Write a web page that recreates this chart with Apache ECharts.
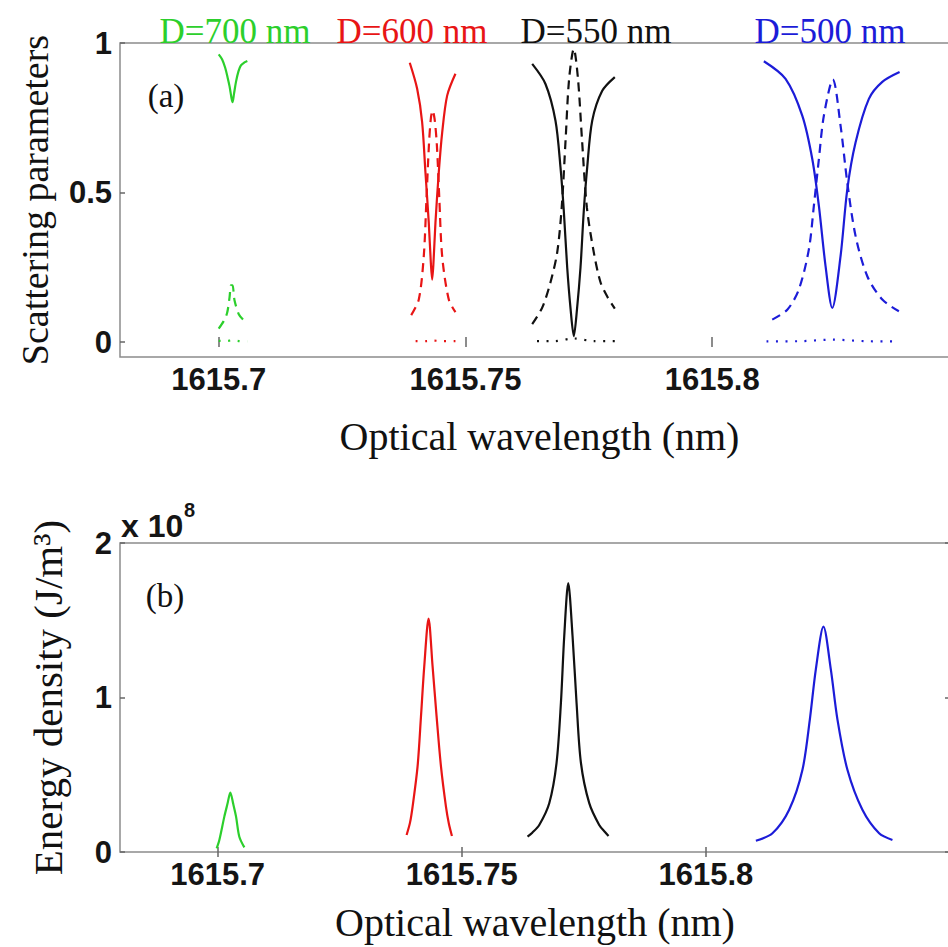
<!DOCTYPE html>
<html>
<head>
<meta charset="utf-8">
<script src="https://cdn.jsdelivr.net/npm/echarts@6/dist/echarts.min.js"></script>
<style>
html,body{margin:0;padding:0;background:#fff;overflow:hidden;width:948px;height:947px;}
#chart{width:962px;height:947px;}
</style>
</head>
<body>
<div id="chart"></div>
<script>
// ---------- tick values ----------
const X_TICKS = [1615.7, 1615.75, 1615.8];
const Y_TICKS_A = [0, 0.5, 1];
const Y_TICKS_B = [0, 1, 2];

// ---------- panel (a): scattering parameters [wavelength nm, value] ----------
const D700_solid = [[1615.70000,0.962],[1615.70070,0.945],[1615.70130,0.918],[1615.70180,0.885],[1615.70220,0.855],[1615.70260,0.815],[1615.70280,0.802],[1615.70310,0.830],[1615.70350,0.870],[1615.70400,0.905],[1615.70450,0.925],[1615.70520,0.935],[1615.70580,0.940]];
const D700_dashed = [[1615.70000,0.045],[1615.70100,0.070],[1615.70170,0.097],[1615.70220,0.150],[1615.70250,0.190],[1615.70280,0.190],[1615.70320,0.140],[1615.70410,0.092],[1615.70500,0.074],[1615.70580,0.064]];
const D700_dotted = [[1615.70000,0.004],[1615.70150,0.003],[1615.70280,0.006],[1615.70430,0.003],[1615.70580,0.002]];

const D600_solid = [[1615.73871,0.934],[1615.74021,0.847],[1615.74122,0.735],[1615.74189,0.567],[1615.74256,0.400],[1615.74300,0.260],[1615.74325,0.209],[1615.74350,0.260],[1615.74392,0.400],[1615.74459,0.567],[1615.74528,0.700],[1615.74629,0.824],[1615.74797,0.897]];
const D600_dashed = [[1615.73900,0.090],[1615.74054,0.142],[1615.74155,0.287],[1615.74210,0.480],[1615.74260,0.660],[1615.74300,0.750],[1615.74335,0.774],[1615.74375,0.745],[1615.74420,0.660],[1615.74470,0.480],[1615.74528,0.287],[1615.74662,0.142],[1615.74797,0.100]];
const D600_dotted = [[1615.73990,0.003],[1615.74200,0.003],[1615.74330,0.005],[1615.74560,0.003],[1615.74797,0.003]];

const D550_solid = [[1615.76352,0.930],[1615.76621,0.863],[1615.76824,0.740],[1615.76925,0.585],[1615.76992,0.440],[1615.77061,0.250],[1615.77130,0.110],[1615.77195,0.020],[1615.77260,0.110],[1615.77331,0.250],[1615.77398,0.440],[1615.77467,0.585],[1615.77568,0.740],[1615.77771,0.840],[1615.78026,0.886]];
const D550_dashed = [[1615.76352,0.060],[1615.76555,0.115],[1615.76723,0.200],[1615.76859,0.300],[1615.76950,0.450],[1615.77030,0.680],[1615.77100,0.880],[1615.77195,0.980],[1615.77280,0.880],[1615.77360,0.680],[1615.77460,0.450],[1615.77600,0.300],[1615.77736,0.200],[1615.77880,0.150],[1615.78026,0.112]];
const D550_dotted = [[1615.76450,0.003],[1615.76800,0.003],[1615.77195,0.012],[1615.77600,0.003],[1615.78026,0.003]];

const D500_solid = [[1615.81046,0.939],[1615.81486,0.880],[1615.81824,0.757],[1615.82027,0.612],[1615.82161,0.455],[1615.82296,0.254],[1615.82432,0.114],[1615.82600,0.287],[1615.82736,0.510],[1615.82904,0.667],[1615.83174,0.813],[1615.83446,0.870],[1615.83796,0.903]];
const D500_dashed = [[1615.81216,0.075],[1615.81520,0.108],[1615.81755,0.176],[1615.81958,0.310],[1615.82059,0.455],[1615.82161,0.612],[1615.82262,0.757],[1615.82444,0.878],[1615.82600,0.724],[1615.82736,0.534],[1615.82904,0.355],[1615.83142,0.220],[1615.83446,0.142],[1615.83782,0.103]];
const D500_dotted = [[1615.81100,0.002],[1615.81800,0.003],[1615.82440,0.008],[1615.83100,0.003],[1615.83782,0.002]];

// ---------- panel (b): energy density, in units of 1e8 J/m^3 ----------
const E700 = [[1615.69980,0.024],[1615.70035,0.078],[1615.70137,0.229],[1615.70200,0.310],[1615.70260,0.385],[1615.70320,0.310],[1615.70377,0.229],[1615.70444,0.099],[1615.70547,0.030]];
const E600 = [[1615.73870,0.110],[1615.73940,0.190],[1615.73993,0.294],[1615.74095,0.554],[1615.74165,0.879],[1615.74232,1.203],[1615.74320,1.511],[1615.74402,1.203],[1615.74484,0.879],[1615.74574,0.554],[1615.74676,0.294],[1615.74735,0.185],[1615.74799,0.104]];
const E550 = [[1615.76347,0.099],[1615.76444,0.125],[1615.76587,0.175],[1615.76792,0.316],[1615.76941,0.576],[1615.77031,0.966],[1615.77099,1.398],[1615.77181,1.740],[1615.77269,1.398],[1615.77351,0.966],[1615.77441,0.576],[1615.77611,0.316],[1615.77815,0.175],[1615.77938,0.128],[1615.78006,0.104]];
const E500 = [[1615.81024,0.073],[1615.81364,0.121],[1615.81706,0.273],[1615.81978,0.532],[1615.82129,0.857],[1615.82252,1.182],[1615.82408,1.459],[1615.82559,1.182],[1615.82695,0.857],[1615.82899,0.532],[1615.83206,0.273],[1615.83548,0.121],[1615.83821,0.078]];

// ---------- labels ----------
const SIZE_LABELS = ['D=700 nm', 'D=600 nm', 'D=550 nm', 'D=500 nm'];

// ---------- styling ----------
const C = {g:'#2ccf2c', r:'#e81515', k:'#111111', b:'#1c1cd8'};
const AX = '#8c8c8c';
const SANS = 'Liberation Sans';
const SERIF = 'Liberation Serif';
const DASH = [9, 6];
const DOT = [2, 7.5];

function line(data, color, type, grid) {
  return {
    type: 'line', data: data, xAxisIndex: grid * 2, yAxisIndex: grid * 2,
    showSymbol: false, symbol: 'none', smooth: 0.3, silent: true,
    lineStyle: {color: color, width: 2.2, type: type},
    z: 3
  };
}

function xAxes(grid) {
  const common = {
    gridIndex: grid, type: 'value', min: 1615.68, max: 1615.85,
    axisLine: {show: false}, splitLine: {show: false},
    axisTick: {show: true, inside: true, length: 5, customValues: X_TICKS, lineStyle: {color: '#666', width: 1.5}}
  };
  return [
    Object.assign({}, common, {
      position: 'bottom',
      axisLabel: {customValues: X_TICKS, formatter: v => String(+v.toFixed(2)), fontFamily: SANS, fontSize: 31, fontWeight: 'bold', color: '#151515', margin: 7},
      name: 'Optical wavelength (nm)', nameLocation: 'middle', nameGap: grid === 0 ? 59 : 50,
      nameTextStyle: {fontFamily: SERIF, fontSize: 40, color: '#111'}
    }),
    Object.assign({}, common, {position: 'top', axisLabel: {show: false}})
  ];
}

function yAxes(grid, ticks, min, max, name, gap, fs) {
  const common = {
    gridIndex: grid, type: 'value', min: min, max: max,
    axisLine: {show: false}, splitLine: {show: false},
    axisTick: {show: true, inside: true, length: 5, customValues: ticks, lineStyle: {color: '#666', width: 1.5}}
  };
  return [
    Object.assign({}, common, {
      position: 'left',
      axisLabel: {customValues: ticks, formatter: v => String(+v.toFixed(2)), fontFamily: SANS, fontSize: 31, fontWeight: 'bold', color: '#151515', margin: 8},
      name: name, nameLocation: 'middle', nameGap: gap,
      nameTextStyle: {fontFamily: SERIF, fontSize: fs, fontWeight: 'normal', color: '#111'}
    }),
    Object.assign({}, common, {position: 'right', axisLabel: {show: false}})
  ];
}

const titleX = [235, 412, 596, 830];
const titleC = [C.g, C.r, C.k, C.b];

const option = {
  animation: false,
  backgroundColor: '#ffffff',
  textStyle: {fontFamily: SERIF},
  grid: [
    {left: 120, top: 43, width: 839, height: 314, show: true, borderColor: AX, borderWidth: 1.5, backgroundColor: 'transparent'},
    {left: 120, top: 543, width: 830, height: 309, show: true, borderColor: AX, borderWidth: 1.5, backgroundColor: 'transparent'}
  ],
  xAxis: xAxes(0).concat(xAxes(1)),
  yAxis: yAxes(0, Y_TICKS_A, -0.05, 1, 'Scattering parameters', 66, 38)
    .concat(yAxes(1, Y_TICKS_B, 0, 2, 'Energy density (J/m\u00B3)', 52, 41)),
  series: [
    line(D700_solid, C.g, 'solid', 0), line(D700_dashed, C.g, DASH, 0), line(D700_dotted, C.g, DOT, 0),
    line(D600_solid, C.r, 'solid', 0), line(D600_dashed, C.r, DASH, 0), line(D600_dotted, C.r, DOT, 0),
    line(D550_solid, C.k, 'solid', 0), line(D550_dashed, C.k, DASH, 0), line(D550_dotted, C.k, DOT, 0),
    line(D500_solid, C.b, 'solid', 0), line(D500_dashed, C.b, DASH, 0), line(D500_dotted, C.b, DOT, 0),
    line(E700, C.g, 'solid', 1), line(E600, C.r, 'solid', 1), line(E550, C.k, 'solid', 1), line(E500, C.b, 'solid', 1)
  ],
  graphic: SIZE_LABELS.map((t, i) => ({
    type: 'text', x: titleX[i], y: 31, silent: true,
    style: {text: t, fill: titleC[i], fontFamily: SERIF, fontSize: 35, textAlign: 'center', textVerticalAlign: 'middle'}
  })).concat([
    {type: 'text', x: 166, y: 96, silent: true, style: {text: '(a)', fill: '#111', fontFamily: SERIF, fontSize: 33, textAlign: 'center', textVerticalAlign: 'middle'}},
    {type: 'text', x: 165, y: 596, silent: true, style: {text: '(b)', fill: '#111', fontFamily: SERIF, fontSize: 33, textAlign: 'center', textVerticalAlign: 'middle'}},
    {type: 'text', x: 121, y: 526, silent: true, style: {text: 'x 10', fill: '#151515', fontFamily: SANS, fontWeight: 'bold', fontSize: 32, textAlign: 'left', textVerticalAlign: 'middle'}},
    {type: 'text', x: 184, y: 510, silent: true, style: {text: '8', fill: '#151515', fontFamily: SANS, fontWeight: 'bold', fontSize: 20, textAlign: 'left', textVerticalAlign: 'middle'}}
  ])
};

const chart = echarts.init(document.getElementById('chart'), null, {renderer: 'svg'});
chart.setOption(option);
</script>
</body>
</html>
